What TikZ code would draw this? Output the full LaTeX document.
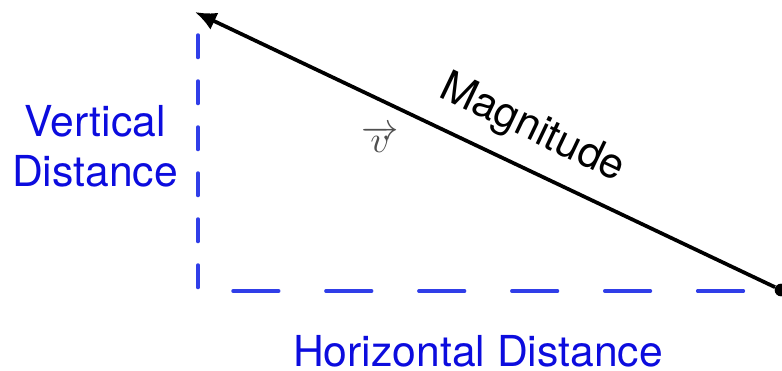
\documentclass[tikz,border=0pt]{standalone}
\usepackage{fontspec}
\setmainfont{TeX Gyre Heros}
\usetikzlibrary{arrows.meta}
\definecolor{distblue}{RGB}{12,12,222}
\definecolor{dashblue}{RGB}{48,62,232}
\definecolor{vecgray}{RGB}{80,80,80}

\begin{document}
\begin{tikzpicture}[
    x=.75pt,y=-.75pt,
    dist/.style={text=distblue,font=\fontsize{32}{37.5}\selectfont,align=center,inner sep=0pt},
    vdash/.style={dashblue,line width=2.6pt,line cap=round,dash pattern=on 16.9pt off 17.6pt},
    hdash/.style={dashblue,line width=2.6pt,line cap=round,dash pattern=on 34.3pt off 35.4pt},
    vec/.style={-{Latex[length=16pt,width=14pt]},line width=2.8pt,black},
    dot/.style={circle,fill=black,inner sep=0pt,minimum size=9.5pt}
  ]
    \useasboundingbox (0,0) rectangle (782,371);

    \node[dot] (tail) at (781,290) {};
    \coordinate (head) at (195,12);
    \draw[vec] (tail) -- (head);

    \coordinate (vtop) at (198,35);
    \coordinate (vbot) at (198,288);
    \coordinate (hleft) at (233,291);
    \coordinate (hright) at (746,291);
    \draw[vdash] (vtop) -- (vbot);
    \draw[hdash] (hleft) -- (hright);

    \node[dist] (vdist) at (95,146) {Vertical\\Distance};
    \node[dist,anchor=base] (hdist) at (478,366) {Horizontal Distance};
    \node[font=\fontsize{32}{37.5}\selectfont,inner sep=0pt,anchor=base,rotate=-25.5] (mag) at (527,139) {Magnitude};
    \node[text=vecgray,scale=2.8,inner sep=0pt] (v) at (380,139) {$\overrightarrow{v}$};
  \end{tikzpicture}
\end{document}
